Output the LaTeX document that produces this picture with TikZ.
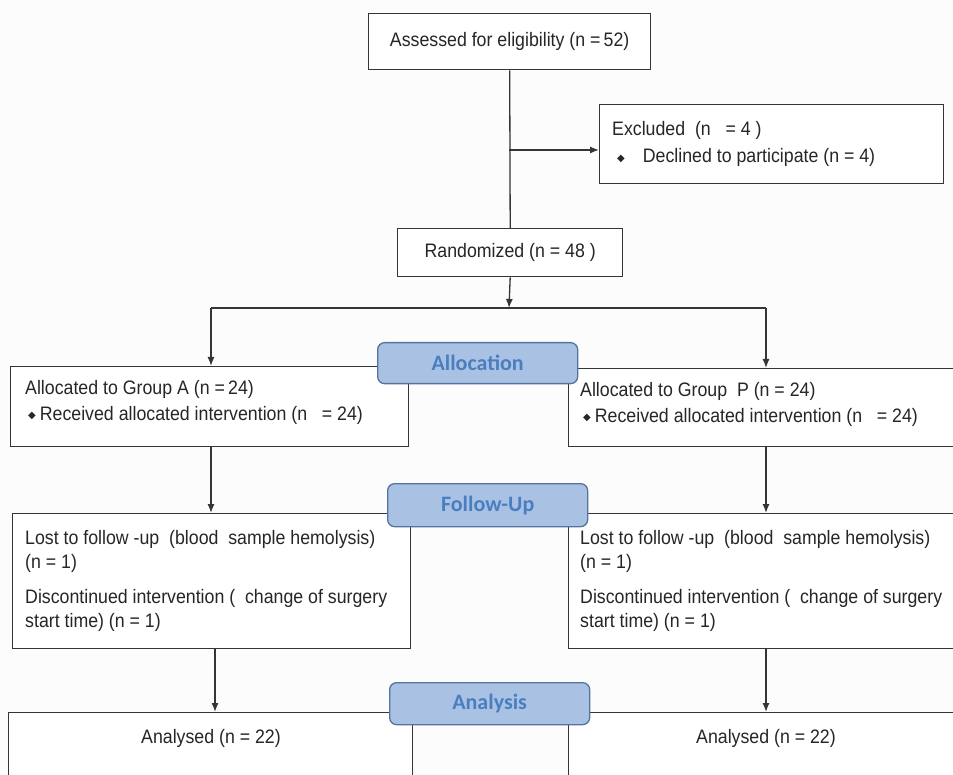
\documentclass[tikz,border=0pt]{standalone}
\usepackage{fontspec}
\setmainfont{Liberation Sans}[FakeStretch=0.91]
\newfontfamily\pillfont{Carlito}
\newfontfamily\symfont{DejaVu Sans}
\usetikzlibrary{arrows.meta,calc}
\definecolor{pillfill}{HTML}{A9C2E4}
\definecolor{pillline}{HTML}{56739F}
\definecolor{pilltext}{HTML}{4A7EC0}
\definecolor{ln}{HTML}{353535}
\definecolor{bg}{HTML}{FCFCFD}
\newcommand{\bul}{\raisebox{1.5pt}{\symfont\fontsize{10}{10}\selectfont ◆}}
\begin{document}
\begin{tikzpicture}[x=1pt,y=-1pt,
  box/.style={draw=ln, line width=1.4pt, fill=white, inner sep=0pt, anchor=north west},
  txt/.style={font=\fontsize{19.5}{24.5}\selectfont, align=left, inner sep=0pt, text=black!85},
  pill/.style={draw=pillline, line width=1.3pt, fill=pillfill, rounded corners=7pt,
    anchor=north west, inner sep=0pt, text=pilltext,
    font=\pillfont\bfseries\fontsize{22}{22}\selectfont},
  conn/.style={draw=ln, line width=1.3pt},
  arr/.style={conn, -{Latex[length=9pt,width=7pt]}}]
\useasboundingbox (0,0) rectangle (953,775);
\fill[bg] (0,0) rectangle (953,775);
\clip (0,0) rectangle (953,775);

% boxes
\node[box, minimum width=282pt, minimum height=56pt] (assess) at (368,13) {};
\node[txt] (assessT) at (assess.center) {Assessed for eligibility (n =\,52)};

\node[box, minimum width=344pt, minimum height=79pt] (excl) at (599,104) {};
\node[txt, anchor=west] (exclT) at ([xshift=13pt]excl.west)
  {Excluded\ \ (n\ \ \ = 4 )\\[3pt]\hspace*{5pt}\bul\hspace{18pt}Declined to participate (n\ = 4)};

\node[box, minimum width=225pt, minimum height=48pt] (rand) at (397,228) {};
\node[txt] (randT) at (rand.center) {Randomized (n = 48 )};

\node[box, minimum width=398pt, minimum height=80pt] (allocA) at (10,366) {};
\node[txt, anchor=west] (allocAT) at ([xshift=15pt,yshift=4pt]allocA.west)
  {Allocated to Group A (n =\,24)\\[1pt]\hspace*{3pt}\bul\hspace{4pt}Received allocated intervention (n\ \ \ = 24)};

\node[box, minimum width=396pt, minimum height=78pt] (allocP) at (568,368) {};
\node[txt, anchor=west] (allocPT) at ([xshift=12pt,yshift=3pt]allocP.west)
  {Allocated to Group\ \ P (n = 24)\\[1pt]\hspace*{3pt}\bul\hspace{4pt}Received allocated intervention (n\ \ \ = 24)};

\node[box, minimum width=398pt, minimum height=135pt] (lostA) at (12,513) {};
\node[txt, anchor=west] (lostAT) at ([xshift=13pt]lostA.west)
  {Lost to follow -up\ \ (blood\ \ sample hemolysis)\\(n = 1)\\[10pt]Discontinued intervention (\ \ change of surgery\\start time) (n = 1)};

\node[box, minimum width=396pt, minimum height=135pt] (lostP) at (568,513) {};
\node[txt, anchor=west] (lostPT) at ([xshift=12pt]lostP.west)
  {Lost to follow -up\ \ (blood\ \ sample hemolysis)\\(n = 1)\\[10pt]Discontinued intervention (\ \ change of surgery\\start time) (n = 1)};

\node[box, minimum width=404pt, minimum height=100pt] (anaA) at (8,712) {};
\node[txt] (anaAT) at (211,738) {Analysed (n = 22)};
\node[box, minimum width=396pt, minimum height=100pt] (anaP) at (568,712) {};
\node[txt] (anaPT) at (766,738) {Analysed (n = 22)};

% connectors
\draw[conn] (assess.south) -- (rand.north);
\coordinate (br) at (509,150);
\draw[arr] (br) -- (br -| excl.west);
\coordinate (split) at (509,308);
\draw[arr] (rand.south) -- (split);
\coordinate (sl) at (211,308);
\coordinate (sr) at (766,308);
\draw[conn] (sl) -- (sr);
\draw[arr] (sl) -- (sl |- allocA.north);
\draw[arr] (sr) -- (sr |- allocP.north);
\draw[arr] (sl |- allocA.south) -- (sl |- lostA.north);
\draw[arr] (sr |- allocP.south) -- (sr |- lostP.north);
\coordinate (cl) at (215,0);
\draw[arr] (cl |- lostA.south) -- (cl |- anaA.north);
\draw[arr] (sr |- lostP.south) -- (sr |- anaP.north);

% stage labels
\node[pill, minimum width=200pt, minimum height=41pt] (pAlloc) at (377,342) {Allocation};
\node[pill, minimum width=200pt, minimum height=43pt] (pFollow) at (387,483) {Follow-Up};
\node[pill, minimum width=200pt, minimum height=42pt] (pAna) at (389,682) {Analysis};
\end{tikzpicture}
\end{document}
